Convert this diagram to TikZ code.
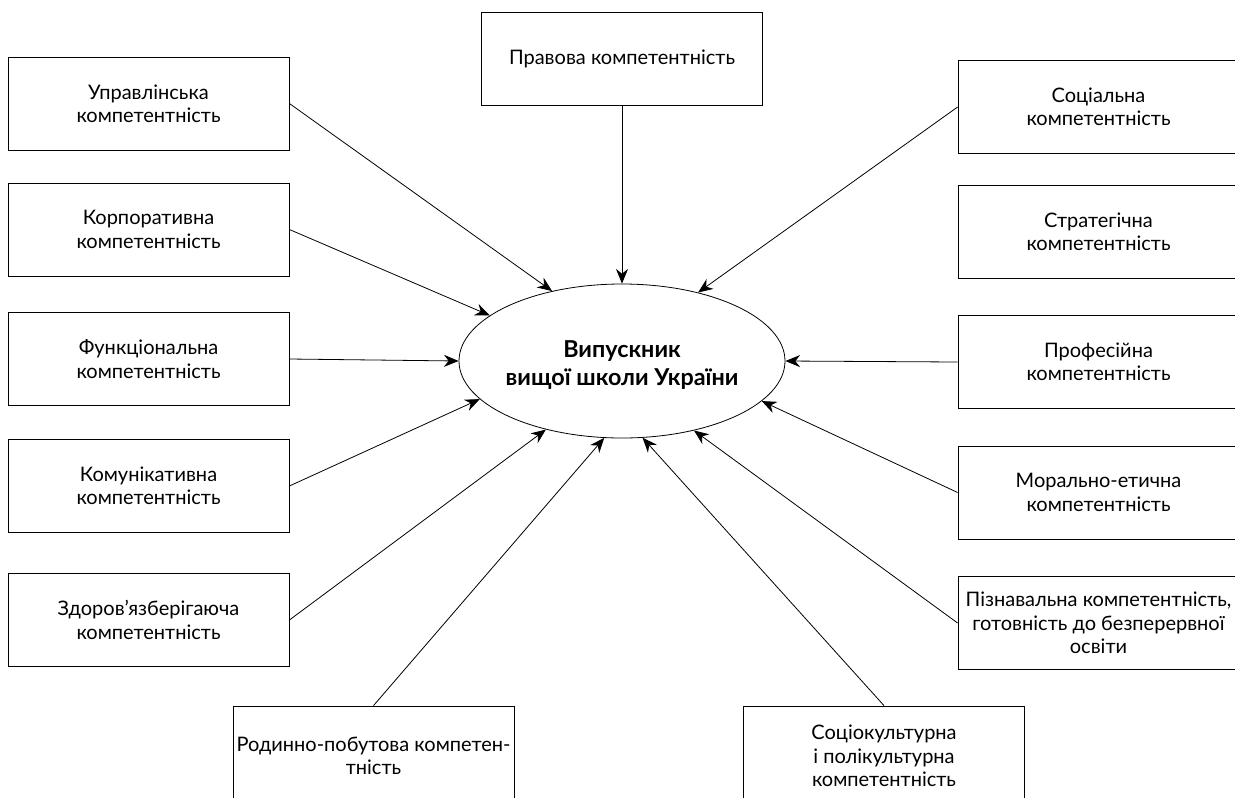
\documentclass[tikz,border=0pt]{standalone}
\usepackage{fontspec}
\setmainfont{Lato}
\usetikzlibrary{arrows.meta,shapes.geometric}

\begin{document}
\begin{tikzpicture}[x=0.75pt,y=-0.75pt,->,>={Stealth[length=11pt,width=9pt]},semithick,
  box/.style={draw,rectangle,minimum width=210.75pt,minimum height=69.75pt,inner sep=0pt,
    align=center,font=\fontsize{15}{17.5}\selectfont},
  lowbox/.style={box,minimum height=75pt}]
 %\useasboundingbox keeps the page at the size of the reference
 \useasboundingbox (0,0) rectangle (1235,797);

 \node[ellipse,draw,minimum width=244.5pt,minimum height=115.5pt,inner sep=0pt] (vyp) at (622,361) {};
 \node[font=\fontsize{17.5}{21}\selectfont\bfseries,align=center,yshift=-3pt] (vyptxt) at (vyp) {Випускник\\вищої школи України};

 \node[box] (prav)  at (622,58.5)    {Правова компетентність};
 \node[box] (upr)   at (148.5,103.5) {Управлінська\\компетентність};
 \node[box] (korp)  at (148.5,229.5) {Корпоративна\\компетентність};
 \node[box] (funk)  at (148.5,359)   {Функціональна\\компетентність};
 \node[box] (komun) at (148.5,486)   {Комунікативна\\компетентність};
 \node[box] (zdor)  at (148.5,620)   {Здоров’язберігаюча\\компетентність};
 \node[box] (soc)   at (1098.5,107)  {Соціальна\\компетентність};
 \node[box] (strat) at (1098.5,231.5){Стратегічна\\компетентність};
 \node[box] (prof)  at (1098.5,362)  {Професійна\\компетентність};
 \node[box] (moral) at (1098.5,492.5){Морально-етична\\компетентність};
 \node[box] (pizn)  at (1098.5,623)  {Пізнавальна компетентність,\\готовність до безперервної\\освіти};
 \node[lowbox] (rod)   at (373.5,756) {Родинно-побутова компетен-\\тність};
 \node[lowbox] (socio) at (884,756)   {Соціокультурна\\і полікультурна\\компетентність};

 \path (prav.south) edge (vyp.90)
       (upr.east)   edge (vyp.135.4)
       (korp.east)  edge (vyp.161.6)
       (funk.east)  edge (vyp.180)
       (komun.east) edge (vyp.195.4)
       (zdor.east)  edge (vyp.222.9)
       (rod.north)  edge (vyp.257.5)
       (socio.north) edge (vyp.285.3)
       (pizn.west)  edge (vyp.316.7)
       (moral.west) edge (vyp.344.7)
       (prof.west)  edge (vyp.0)
       (soc.west)   edge (vyp.42.2);
\end{tikzpicture}
\end{document}
